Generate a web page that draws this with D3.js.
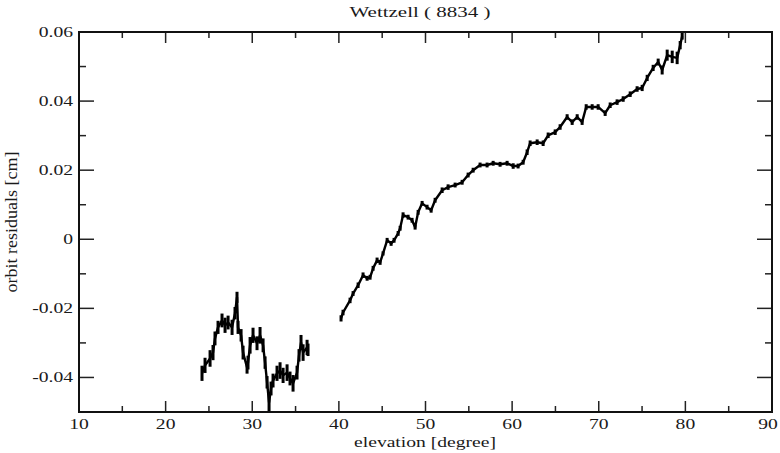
<!DOCTYPE html>
<html>
<head>
<meta charset="utf-8">
<script src="https://cdn.jsdelivr.net/npm/d3@7"></script>
<style>
  body { margin: 0; background: #fff; }
  text { font-family: "Liberation Serif", "DejaVu Serif", serif; fill: #1a1a1a; }
</style>
</head>
<body>
<div id="graph"></div>
<script>
// elevation [degree] / residual [cm] / noise half-width
const elev1 = [24.20, 24.55, 25.13, 25.47, 25.70, 26.05, 26.51, 26.86, 27.21, 27.67, 28.01, 28.24, 28.36, 28.71, 28.94, 29.40, 29.51, 29.75, 30.09, 30.55, 30.90, 31.25, 31.48, 31.71, 31.94, 32.17, 32.40, 32.86, 33.21, 33.56, 34.02, 34.36, 34.71, 35.17, 35.40, 35.63, 35.87, 36.33, 36.44]
const resid1 = [-0.0388, -0.0365, -0.0345, -0.0328, -0.0287, -0.0255, -0.0235, -0.0249, -0.0241, -0.0255, -0.0214, -0.0168, -0.0255, -0.0278, -0.0328, -0.0371, -0.0357, -0.0307, -0.0278, -0.0301, -0.0278, -0.0307, -0.0357, -0.0414, -0.0472, -0.0432, -0.0409, -0.0388, -0.0380, -0.0394, -0.0386, -0.0403, -0.0417, -0.0386, -0.0336, -0.0299, -0.0328, -0.0313, -0.0320]
const spread1 = [0.0022, 0.0022, 0.0024, 0.0022, 0.0020, 0.0019, 0.0020, 0.0022, 0.0020, 0.0022, 0.0018, 0.0016, 0.0019, 0.0018, 0.0020, 0.0018, 0.0020, 0.0024, 0.0022, 0.0020, 0.0024, 0.0020, 0.0018, 0.0018, 0.0026, 0.0020, 0.0020, 0.0022, 0.0024, 0.0022, 0.0024, 0.0020, 0.0024, 0.0020, 0.0018, 0.0022, 0.0024, 0.0022, 0.0018]

const elev2 = [40.25, 40.48, 41.29, 41.64, 42.22, 42.79, 43.26, 43.60, 43.95, 44.41, 44.76, 45.10, 45.57, 46.03, 46.37, 46.84, 47.07, 47.41, 47.99, 48.45, 48.80, 49.15, 49.61, 50.18, 50.65, 51.11, 51.92, 52.61, 53.42, 54.23, 54.92, 55.50, 56.30, 57.11, 57.81, 58.61, 59.42, 60.12, 60.69, 61.27, 61.73, 62.08, 62.89, 63.58, 64.16, 64.97, 65.54, 66.35, 66.93, 67.51, 68.08, 68.55, 69.24, 69.93, 70.74, 71.32, 72.12, 72.82, 73.63, 74.43, 75.01, 75.59, 76.28, 76.86, 77.32, 77.90, 78.48, 79.05, 79.40, 79.63]
const resid2 = [-0.0229, -0.0212, -0.0177, -0.0157, -0.0133, -0.0104, -0.0113, -0.0110, -0.0084, -0.0061, -0.0067, -0.0041, -0.0003, -0.0012, -0.0003, 0.0017, 0.0032, 0.0070, 0.0064, 0.0055, 0.0035, 0.0078, 0.0104, 0.0093, 0.0084, 0.0113, 0.0142, 0.0151, 0.0157, 0.0165, 0.0186, 0.0200, 0.0215, 0.0215, 0.0220, 0.0217, 0.0220, 0.0212, 0.0212, 0.0223, 0.0252, 0.0278, 0.0281, 0.0278, 0.0301, 0.0310, 0.0325, 0.0354, 0.0339, 0.0354, 0.0339, 0.0383, 0.0383, 0.0383, 0.0365, 0.0388, 0.0397, 0.0406, 0.0420, 0.0435, 0.0438, 0.0467, 0.0496, 0.0513, 0.0490, 0.0533, 0.0528, 0.0525, 0.0562, 0.0588]
const spread2 = [0.0009, 0.0008, 0.0008, 0.0007, 0.0008, 0.0008, 0.0007, 0.0007, 0.0007, 0.0008, 0.0007, 0.0006, 0.0007, 0.0007, 0.0007, 0.0007, 0.0007, 0.0008, 0.0007, 0.0007, 0.0007, 0.0007, 0.0007, 0.0007, 0.0007, 0.0007, 0.0008, 0.0008, 0.0007, 0.0007, 0.0007, 0.0007, 0.0007, 0.0007, 0.0007, 0.0007, 0.0007, 0.0008, 0.0007, 0.0007, 0.0008, 0.0008, 0.0008, 0.0008, 0.0008, 0.0008, 0.0008, 0.0008, 0.0008, 0.0008, 0.0008, 0.0008, 0.0008, 0.0008, 0.0008, 0.0008, 0.0008, 0.0008, 0.0008, 0.0008, 0.0009, 0.0009, 0.0009, 0.0010, 0.0013, 0.0016, 0.0018, 0.0018, 0.0012, 0.0010]

const xTicks = [10, 20, 30, 40, 50, 60, 70, 80, 90]
const yTicks = [-0.04, -0.02, 0, 0.02, 0.04, 0.06]
const yTickLabels = ['-0.04', '-0.02', '0', '0.02', '0.04', '0.06']

const size = { width: 780, height: 453, left: 79, right: 772, top: 32, bottom: 412 }

const svg = d3.select('#graph')
.append('svg')
.attr('width', size.width)
.attr('height', size.height)

const x = d3.scaleLinear().domain([10, 90]).range([size.left, size.right])
const y = d3.scaleLinear().domain([-0.05, 0.06]).range([size.bottom, size.top])

// text in the original is stretched sideways
const stretch = 1.4

svg.append('defs').append('clipPath').attr('id', 'plot')
.append('rect')
.attr('x', size.left).attr('y', size.top)
.attr('width', size.right - size.left).attr('height', size.bottom - size.top)

const data = svg.append('g').attr('clip-path', 'url(#plot)')

const segments = [
  elev1.map((e, i) => ({ e, r: resid1[i], s: spread1[i] })),
  elev2.map((e, i) => ({ e, r: resid2[i], s: spread2[i] }))
]

const line = d3.line().x(d => x(d.e)).y(d => y(d.r))

segments.forEach(seg => {
  data.append('path')
  .datum(seg)
  .attr('d', line)
  .attr('fill', 'none')
  .attr('stroke', '#000')
  .attr('stroke-width', 2.4)
  .attr('stroke-linejoin', 'round')

  data.append('g')
  .selectAll('line')
  .data(seg)
  .enter()
  .append('line')
  .attr('x1', d => x(d.e)).attr('x2', d => x(d.e))
  .attr('y1', d => y(d.r - d.s)).attr('y2', d => y(d.r + d.s))
  .attr('stroke', '#000')
  .attr('stroke-width', 3)
})

// ticks on all four sides, pointing inward
const tickColor = '#222'
const xMinor = d3.range(15, 90, 10)
const yMinor = [-0.05, -0.03, -0.01, 0.01, 0.03, 0.05]

const axes = svg.append('g').attr('stroke', tickColor).attr('stroke-width', 1.5)

xTicks.forEach(t => {
  axes.append('line').attr('x1', x(t)).attr('x2', x(t)).attr('y1', size.bottom).attr('y2', size.bottom - 11)
  axes.append('line').attr('x1', x(t)).attr('x2', x(t)).attr('y1', size.top).attr('y2', size.top + 11)
})
xMinor.forEach(t => {
  axes.append('line').attr('x1', x(t)).attr('x2', x(t)).attr('y1', size.bottom).attr('y2', size.bottom - 6)
  axes.append('line').attr('x1', x(t)).attr('x2', x(t)).attr('y1', size.top).attr('y2', size.top + 6)
})
yTicks.forEach(t => {
  axes.append('line').attr('y1', y(t)).attr('y2', y(t)).attr('x1', size.left).attr('x2', size.left + 15)
  axes.append('line').attr('y1', y(t)).attr('y2', y(t)).attr('x1', size.right).attr('x2', size.right - 15)
})
yMinor.forEach(t => {
  axes.append('line').attr('y1', y(t)).attr('y2', y(t)).attr('x1', size.left).attr('x2', size.left + 7)
  axes.append('line').attr('y1', y(t)).attr('y2', y(t)).attr('x1', size.right).attr('x2', size.right - 7)
})

svg.append('rect')
.attr('x', size.left).attr('y', size.top)
.attr('width', size.right - size.left).attr('height', size.bottom - size.top)
.attr('fill', 'none')
.attr('stroke', '#111')
.attr('stroke-width', 2)

// tick labels (the last one is kept inside the window)
svg.append('g')
.selectAll('text')
.data(xTicks)
.enter()
.append('text')
.attr('transform', d => `translate(${Math.min(x(d), size.width - 12)},${size.bottom + 17}) scale(${stretch},1)`)
.attr('text-anchor', 'middle')
.attr('font-size', 14)
.text(d => d)

svg.append('g')
.selectAll('text')
.data(yTicks)
.enter()
.append('text')
.attr('transform', d => `translate(${size.left - 6},${y(d) + 5}) scale(${stretch},1)`)
.attr('text-anchor', 'end')
.attr('font-size', 14)
.text((d, i) => yTickLabels[i])

// titles
svg.append('text')
.attr('transform', `translate(420,17) scale(${stretch},1)`)
.attr('text-anchor', 'middle')
.attr('font-size', 15)
.text('Wettzell ( 8834 )')

svg.append('text')
.attr('transform', `translate(425,447) scale(${stretch},1)`)
.attr('text-anchor', 'middle')
.attr('font-size', 14)
.text('elevation [degree]')

svg.append('text')
.attr('transform', `translate(17,222) rotate(-90) scale(1.2,1.15)`)
.attr('text-anchor', 'middle')
.attr('font-size', 15)
.text('orbit residuals [cm]')
</script>
</body>
</html>
